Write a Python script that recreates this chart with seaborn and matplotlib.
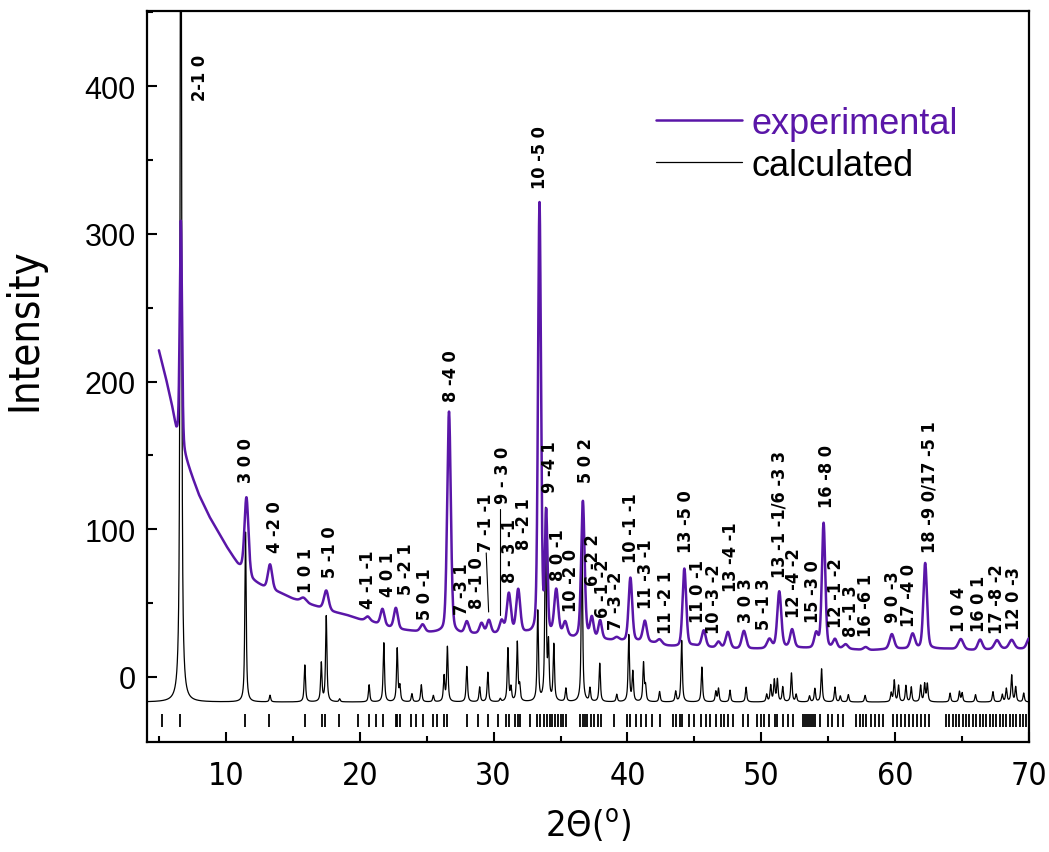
import os
import numpy as np
import pandas as pd
import matplotlib
matplotlib.use("Agg")
import matplotlib.pyplot as plt
import seaborn as sns
from matplotlib.ticker import MultipleLocator
from matplotlib import font_manager
from matplotlib.font_manager import FontProperties

sns.set_style("ticks", rc={"text.color": "black", "axes.labelcolor": "black",
                           "xtick.color": "black", "ytick.color": "black",
                           "axes.edgecolor": "black"})
plt.rcParams["font.family"] = ["Liberation Sans", "DejaVu Sans"]


def find_font(*names):
    files = {os.path.basename(f.fname): f.fname for f in font_manager.fontManager.ttflist}
    for n in names:
        if n in files:
            return files[n]
    return None


# the original uses a narrow Arial; take a narrow face if one is installed
narrow_bold_file = find_font("LiberationSansNarrow-Bold.ttf", "DejaVuSansCondensed-Bold.ttf")
narrow_file = find_font("LiberationSansNarrow-Regular.ttf", "DejaVuSansCondensed.ttf")


def narrow_font(size, bold=False):
    f = narrow_bold_file if bold else narrow_file
    if f:
        return FontProperties(fname=f, size=size)
    return FontProperties(family="Liberation Sans", size=size * 0.9,
                          weight="bold" if bold else "normal")


PURPLE = "#5A16A8"

# experimental background, read between the peaks
exp_bg_x = [5.0, 5.5, 6.0, 6.3, 6.9, 7.5, 8.0, 8.8, 9.5, 10.0, 10.9, 12.0, 13.0, 14.0,
            15.0, 16.0, 17.0, 18.0, 19.0, 20.0, 21.0, 22.0, 23.0, 24.0, 25.0, 26.0,
            27.5, 29.0, 30.0, 31.0, 32.5, 33.0, 34.0, 35.0, 36.0, 37.0, 38.5, 40.0,
            41.0, 42.0, 43.0, 44.0, 45.0, 46.0, 48.0, 50.0, 52.0, 54.0, 56.0, 58.0,
            60.0, 62.0, 64.0, 66.0, 68.0, 70.0]
exp_bg_y = [221, 203, 182, 166, 150, 135, 123, 108, 97, 89, 76, 65, 60, 57,
            53, 50, 47, 44, 42, 39, 37, 34, 32, 31, 30, 30,
            29, 29, 29, 30, 29, 28, 28, 28, 26, 27, 25, 24,
            24, 23, 21, 20, 21, 20, 19, 19, 20, 19, 19, 18,
            19, 19, 19, 18, 19, 19]

# experimental peaks: position, height above background, width
exp_peak_pos = [6.64, 11.54, 13.3, 15.8, 17.5, 20.6, 21.7, 22.7, 24.7, 26.67, 28.0,
                29.1, 29.65, 30.6, 31.14, 31.84, 33.43, 33.93, 34.68, 35.35, 36.67,
                37.34, 37.96, 39.2, 40.22, 41.3, 42.4, 44.25, 45.7, 46.8, 47.5, 48.7,
                50.6, 51.34, 52.3, 54.1, 54.65, 55.5, 56.3, 57.8, 59.75, 61.3, 62.24,
                64.9, 66.34, 67.6, 68.7, 70.0]
exp_peak_height = [152, 52, 17, 3, 13, 3, 11, 14, 5, 150, 8,
                   7, 9, 8, 26, 29, 292, 80, 30, 9, 92,
                   13, 12, 2, 43, 14, 3, 53, 11, 4, 11, 12,
                   6, 38, 12, 10, 85, 6, 3, 2, 10, 10, 58,
                   7, 7, 6, 6, 7]
exp_peak_fwhm = [0.2, 0.35, 0.38, 0.5, 0.4, 0.4, 0.35, 0.35, 0.4, 0.32, 0.35,
                 0.35, 0.35, 0.35, 0.35, 0.35, 0.26, 0.22, 0.35, 0.35, 0.3,
                 0.3, 0.3, 0.4, 0.32, 0.35, 0.4, 0.32, 0.35, 0.35, 0.38, 0.38,
                 0.4, 0.35, 0.35, 0.35, 0.3, 0.35, 0.4, 0.4, 0.4, 0.4, 0.32,
                 0.45, 0.4, 0.45, 0.45, 0.4]

# calculated pattern: peaks above a flat baseline
calc_baseline = -17
calc_peak_pos = [6.64, 11.47, 13.3, 15.9, 17.13, 17.5, 18.5, 20.7, 21.8, 22.8, 23.0,
                 23.9, 24.6, 25.5, 26.3, 26.55, 28.0, 28.96, 29.57, 30.5, 31.07, 31.3,
                 31.77, 31.95, 33.3, 33.88, 34.1, 34.5, 35.4, 36.6, 37.2, 37.93, 39.2,
                 40.1, 40.4, 41.2, 41.35, 42.4, 43.6, 44.05, 45.56, 46.6, 46.8, 47.66,
                 48.86, 50.4, 50.7, 50.97, 51.2, 51.6, 52.25, 52.6, 53.6, 54.0, 54.5,
                 55.5, 55.9, 56.5, 57.75, 59.7, 59.93, 60.25, 60.8, 61.2, 61.9, 62.2,
                 62.4, 64.1, 64.8, 65.0, 66.0, 67.3, 68.0, 68.3, 68.7, 69.0, 69.6]
calc_peak_height = [700, 115, 4.5, 25, 26, 58, 2, 11.6, 40, 36, 10,
                    5.5, 11.6, 4.3, 17, 37, 24, 10, 20, 2, 36, 9,
                    40, 10, 61, 129, 36, 38, 9, 115, 9, 26, 5,
                    45, 20, 26, 10, 7, 7, 41.6, 23.6, 7, 9, 8,
                    10, 5, 11, 14.5, 15, 10, 19.5, 5, 4, 9, 22.4,
                    10, 4, 5, 4.5, 6, 14.5, 11, 11, 10, 11, 12,
                    12, 6, 7, 6, 5, 7, 5, 9, 18, 10, 6]

# Bragg reflection markers
reflections = [5.2, 6.57, 11.42, 13.2, 15.9, 17.22, 17.39, 18.46, 19.87, 20.7, 21.2,
               21.75, 22.69, 22.79, 23.0, 23.86, 24.2, 24.7, 25.5, 25.75, 26.3, 26.55,
               28.03, 28.83, 29.55, 30.32, 30.95, 31.12, 31.57, 31.81, 32.01, 32.69,
               33.26, 33.5, 33.8, 34.0, 34.2, 34.4, 34.6, 34.8, 35.0, 35.2, 35.4,
               36.42, 36.67, 36.8, 37.0, 37.3, 37.5, 37.8, 38.0, 39.0, 40.0, 40.2,
               40.65, 41.0, 41.4, 41.8, 42.4, 43.4, 43.6, 43.9, 44.1, 44.6, 45.0,
               45.5, 45.9, 46.2, 46.6, 47.0, 47.2, 47.5, 47.9, 48.6, 49.0, 49.7,
               50.0, 50.2, 50.6, 51.0, 51.2, 51.6, 51.96, 52.4, 53.1, 53.25, 53.4,
               53.55, 53.7, 53.85, 54.0, 54.4, 55.0, 55.3, 55.7, 56.1, 57.1, 57.4,
               57.6, 57.8, 58.2, 58.5, 58.8, 59.1, 59.8, 60.1, 60.4, 60.7, 61.0,
               61.3, 61.6, 61.9, 62.2, 62.5, 63.8, 64.05, 64.3, 64.55, 64.8, 65.05,
               65.3, 65.55, 65.8, 66.05, 66.3, 66.55, 66.8, 67.05, 67.3, 67.55, 67.8,
               68.05, 68.3, 68.55, 68.8, 69.05, 69.3, 69.55, 69.8]

# hkl labels: text, x centre, bottom y
hkl_text = ["2-1 0", "3 0 0", "4 -2 0", "1 0 1", "5 -1 0", "4 -1 -1", "4 0 1", "5 -2 1",
            "5 0 -1", "8 -4 0", "7 -3 1", "8 -1 0", "7 -1 -1", "9 - 3 0", "8 - 3 -1",
            "8 -2 1", "10 -5 0", "9 -4 1", "8 0 -1", "10 -2 0", "5 0 2", "6 -2 2",
            "6 -1 -2", "7 -3 -2", "10 -1 -1", "11 -3 -1", "11 -2 1", "13 -5 0",
            "11 0 -1", "10 -3 -2", "13 -4 -1", "3 0 3", "5 -1 3", "13 -1 -1/6 -3 3",
            "12 -4 -2", "15 -3 0", "16 -8 0", "12 -1 -2", "8 -1 3", "16 -6 1",
            "9 0 -3", "17 -4 0", "18 -9 0/17 -5 1", "1 0 4", "16 0 1", "17 -8 -2",
            "12 0 -3"]
hkl_x = [8.06, 11.54, 13.66, 16.02, 17.76, 20.62, 22.1, 23.49,
         24.85, 26.84, 27.66, 28.76, 29.45, 30.7, 31.24,
         32.3, 33.43, 34.23, 34.8, 35.8, 36.87, 37.41,
         38.16, 39.16, 40.28, 41.4, 42.9, 44.38,
         45.3, 46.5, 47.74, 48.86, 50.22, 51.34,
         52.46, 53.83, 54.87, 55.57, 56.7, 57.8,
         59.8, 61.04, 62.54, 64.78, 66.27, 67.6,
         68.9]
hkl_y = [391, 132, 84.5, 57.4, 67.6, 47, 55, 56,
         39, 187, 42.7, 47, 85.6, 118, 64,
         86.8, 331, 125, 66, 45, 132, 62,
         40.5, 32.5, 77.7, 47, 30, 84.5,
         37, 30, 58.5, 37, 32.5, 67.6,
         40.5, 37, 115, 33.7, 28, 28,
         37, 34.8, 84.5, 31.4, 31.4, 30,
         32.5]

# leader lines from two labels down to their peaks
leader_x = [[29.45, 29.63], [30.5, 30.5]]
leader_y = [[84, 44], [114, 42]]


def pseudo_voigt(x, pos, height, fwhm, eta):
    out = np.zeros_like(x)
    fwhm = np.broadcast_to(fwhm, (len(pos),))
    for p, h, w in zip(pos, height, fwhm):
        d = (x - p) / (w / 2.0)
        out += h * (eta / (1.0 + d ** 2) + (1 - eta) * np.exp(-np.log(2) * d ** 2))
    return out


two_theta = np.linspace(5.0, 70.0, 13001)
exp_y = np.interp(two_theta, exp_bg_x, exp_bg_y) + pseudo_voigt(
    two_theta, exp_peak_pos, exp_peak_height, exp_peak_fwhm, 0.3)
exp_df = pd.DataFrame({"two_theta": two_theta, "intensity": exp_y})

two_theta_c = np.linspace(4.0, 70.0, 26401)
calc_y = calc_baseline + pseudo_voigt(two_theta_c, calc_peak_pos, calc_peak_height, 0.12, 0.8)
calc_df = pd.DataFrame({"two_theta": two_theta_c, "intensity": calc_y})

fig = plt.figure(figsize=(10.49, 8.53), dpi=100)
ax = fig.add_axes([0.140, 0.129, 0.841, 0.857])

sns.lineplot(data=calc_df, x="two_theta", y="intensity", ax=ax, color="black",
             lw=0.9, estimator=None, label="calculated", zorder=2)
sns.lineplot(data=exp_df, x="two_theta", y="intensity", ax=ax, color=PURPLE,
             lw=1.8, estimator=None, label="experimental", zorder=3)
ax.vlines(reflections, -34, -25, color="black", lw=1.3)

for xs, ys in zip(leader_x, leader_y):
    ax.plot(xs, ys, color="black", lw=0.8)

label_font = narrow_font(13, bold=True)
for t, x, y in zip(hkl_text, hkl_x, hkl_y):
    ax.text(x, y, t, rotation=90, ha="center", va="bottom",
            fontproperties=label_font, zorder=4)

ax.set_xlim(4.1, 70)
ax.set_ylim(-44, 451)
ax.xaxis.set_major_locator(MultipleLocator(10))
ax.xaxis.set_minor_locator(MultipleLocator(5))
ax.yaxis.set_major_locator(MultipleLocator(100))
ax.yaxis.set_minor_locator(MultipleLocator(50))
ax.tick_params(which="both", direction="in", top=False, right=False, width=1.5)
ax.tick_params(which="major", length=7)
ax.tick_params(which="minor", length=4)
ax.tick_params(axis="y", labelsize=22, pad=8)
ax.tick_params(axis="x", pad=13)
xt_font = narrow_font(23)
for lab in ax.get_xticklabels():
    lab.set_fontproperties(xt_font)
for sp in ax.spines.values():
    sp.set_linewidth(1.6)

ax.set_xlabel("2Θ($^\\mathregular{o}$)", fontproperties=narrow_font(26), labelpad=10)
ax.set_ylabel("Intensity", fontproperties=narrow_font(30))
ax.yaxis.set_label_coords(-0.115, 0.565)

handles, labels = ax.get_legend_handles_labels()
order = [labels.index("experimental"), labels.index("calculated")]
leg = ax.legend([handles[i] for i in order], [labels[i] for i in order],
                loc="upper left", bbox_to_anchor=(0.54, 0.915), frameon=False,
                fontsize=26, handlelength=2.4, handletextpad=0.25, labelspacing=0.2)
for txt in leg.get_texts():
    if txt.get_text() == "experimental":
        txt.set_color(PURPLE)

fig.savefig("out.png", dpi=100)
